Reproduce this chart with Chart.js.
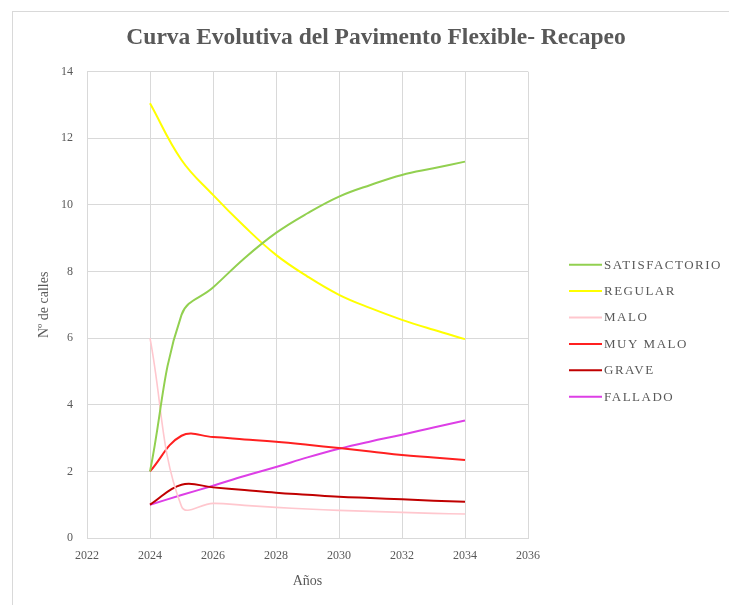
<!DOCTYPE html>
<html>
<head>
<meta charset="utf-8">
<script src="https://cdn.jsdelivr.net/npm/chart.js@4"></script>
<style>
  html, body { margin: 0; padding: 0; background: #fff; }
  #frame { position: absolute; left: 12px; top: 11px; width: 740px; height: 620px; border: 1px solid #d9d9d9; }
  #wrap { position: absolute; left: 0; top: 0; width: 729px; height: 605px; }
</style>
</head>
<body>
<div id="frame"></div>
<div id="wrap"><canvas id="graph"></canvas></div>
<script>
// años (eje x)
const years = [2024, 2025, 2026, 2027, 2028, 2029, 2030, 2031, 2032, 2033, 2034]

const satisfactorio = [2, 6.7, 7.52, 8.4, 9.16, 9.75, 10.25, 10.6, 10.9, 11.1, 11.3]
const regular = [13.05, 11.35, 10.3, 9.35, 8.5, 7.85, 7.3, 6.9, 6.55, 6.25, 5.97]
const malo = [6, 0.95, 1.04, 0.98, 0.92, 0.87, 0.83, 0.8, 0.77, 0.74, 0.72]
const muyMalo = [2, 3.07, 3.03, 2.96, 2.89, 2.8, 2.7, 2.6, 2.49, 2.42, 2.34]
const grave = [1, 1.6, 1.52, 1.44, 1.36, 1.3, 1.24, 1.2, 1.16, 1.12, 1.09]
const fallado = [1, 1.29, 1.57, 1.86, 2.13, 2.42, 2.68, 2.9, 3.1, 3.32, 3.53]

const labels = ['SATISFACTORIO', 'REGULAR', 'MALO', 'MUY MALO', 'GRAVE', 'FALLADO']
const colors = ['#92d050', '#ffff00', '#ffc7ce', '#ff2020', '#c00000', '#dd3fe6']
const series = [satisfactorio, regular, malo, muyMalo, grave, fallado]

const gray = '#595959'
const serif = "'Liberation Serif', 'Times New Roman', serif"

// leyenda dibujada a la derecha del área del gráfico
const sideLegend = {
    id: 'sideLegend',
    afterDraw(chart) {
        const ctx = chart.ctx
        const area = chart.chartArea
        const x0 = area.right + 41
        const y0 = area.top + 193
        ctx.save()
        ctx.font = `13px ${serif}`
        ctx.letterSpacing = '1.5px'
        ctx.textBaseline = 'middle'
        chart.data.datasets.forEach((ds, i) => {
            const y = y0 + i * 26.4
            ctx.strokeStyle = ds.borderColor
            ctx.lineWidth = 2
            ctx.beginPath()
            ctx.moveTo(x0, y)
            ctx.lineTo(x0 + 33, y)
            ctx.stroke()
            ctx.fillStyle = gray
            ctx.fillText(ds.label, x0 + 35, y + 0.5)
        })
        ctx.restore()
    }
}

new Chart('graph', {
    type: 'scatter',
    data: {
        datasets: series.map((vals, i) => ({
            label: labels[i],
            data: years.map((yr, j) => ({x: yr, y: vals[j]})),
            showLine: true,
            borderColor: colors[i],
            backgroundColor: colors[i],
            borderWidth: i === 2 ? 1.6 : 2,
            pointRadius: 0,
            tension: 0.4
        }))
    },
    options: {
        responsive: true,
        maintainAspectRatio: false,
        animation: false,
        layout: { padding: { left: 23, right: 0, top: 0, bottom: 0 } },
        plugins: {
            legend: { display: false },
            tooltip: { enabled: false },
            title: {
                display: true,
                text: 'Curva Evolutiva del Pavimento Flexible- Recapeo',
                color: gray,
                font: { family: serif, size: 23.5, weight: 'bold', lineHeight: 1.2 },
                padding: { top: 24, bottom: 19.5 }
            }
        },
        scales: {
            x: {
                type: 'linear',
                min: 2022,
                max: 2036,
                ticks: { stepSize: 2, color: gray, font: { family: serif, size: 12 }, padding: 11, callback: v => String(v) },
                grid: { color: '#d9d9d9', drawTicks: false },
                border: { color: '#d9d9d9' },
                title: { display: true, text: 'Años', color: gray, font: { family: serif, size: 14 }, padding: { top: 0, bottom: 15 } },
                afterFit(scale) { scale.height = 67 }
            },
            y: {
                min: 0,
                max: 14,
                ticks: { stepSize: 2, color: gray, font: { family: serif, size: 12 }, padding: 14 },
                grid: { color: '#d9d9d9', drawTicks: false },
                border: { color: '#d9d9d9' },
                title: { display: true, text: 'Nº de calles', color: gray, font: { family: serif, size: 14 }, padding: { top: 13, bottom: 0 } },
                afterFit(scale) { scale.width = 64 }
            },
            side: {
                position: 'right',
                display: true,
                ticks: { display: false },
                grid: { display: false, drawTicks: false },
                border: { display: false },
                afterFit(scale) { scale.width = 201 }
            }
        }
    },
    plugins: [sideLegend]
})
</script>
</body>
</html>
